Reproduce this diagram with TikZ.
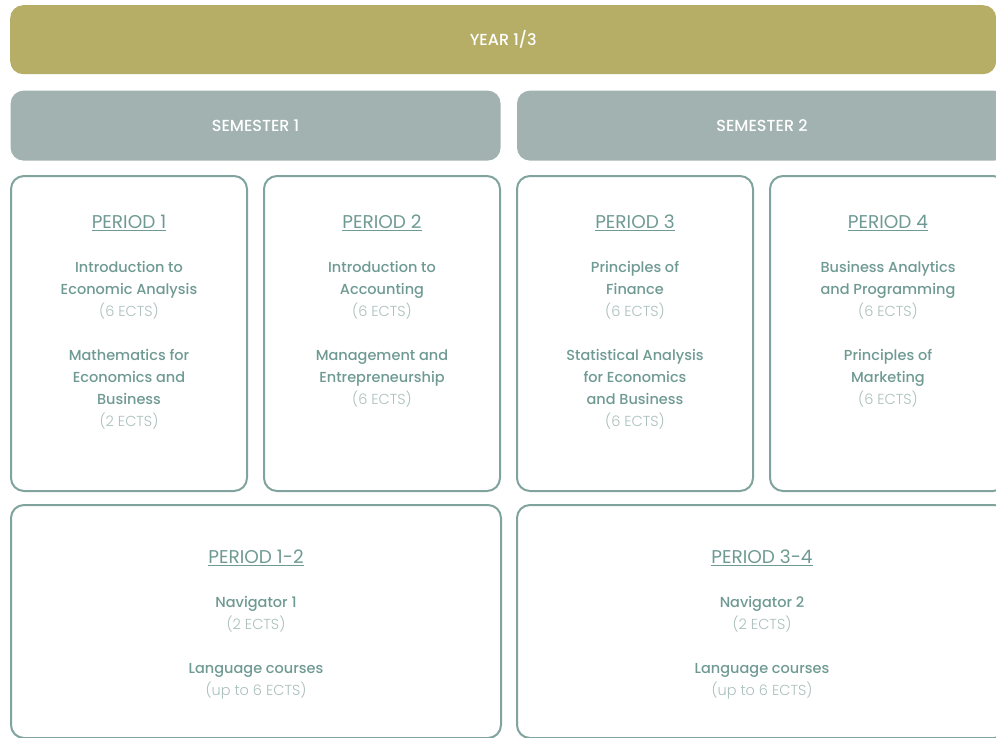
\documentclass[tikz,border=0pt]{standalone}
\usepackage{fontspec}
\setmainfont{Poppins}
\newfontfamily\medfont{Poppins Medium}
\newfontfamily\lightfont{Poppins Light}
\usetikzlibrary{positioning}

\definecolor{yearolive}{HTML}{B6AE67}
\definecolor{semgrey}{HTML}{A1B2B1}
\definecolor{frame}{HTML}{80A49D}
\definecolor{course}{HTML}{6F9A93}
\definecolor{credit}{HTML}{A9BFBB}

\newcommand{\ects}[1]{{\color{credit}\lightfont(#1)}}
\newcommand{\phead}[1]{{\normalfont\fontsize{18.5}{22}\selectfont\underline{#1}}}

\begin{document}
\begin{tikzpicture}[%
    x=1pt, y=-1pt,               % work in image pixels
    node distance=16pt and 15pt, % gaps between boxes
    ]
% -------------------------------------------------
% Box and text styles
\tikzset{
  base/.style={rounded corners=13pt, inner sep=0pt},
  bar/.style={base, fill=yearolive, text=white, font=\medfont\fontsize{16}{18}\selectfont},
  sembar/.style={base, fill=semgrey, text=white, font=\medfont\fontsize{16}{18}\selectfont},
  period/.style={base, draw=frame, line width=2pt, anchor=north west},
  courses/.style={align=center, text=course, inner sep=0pt, anchor=north,
    font=\medfont\fontsize{14.5}{22}\selectfont}
}
\useasboundingbox (0,0) rectangle (996,737);
\clip (0,0) rectangle (996,737);
% -------------------------------------------------
% Headers
\node [bar, anchor=north west, minimum width=986pt, minimum height=69pt] (year) at (10,5) {YEAR 1/3};
\node [sembar, below right=16pt and -986pt of year.south east, minimum width=490pt, minimum height=70pt] (sem1) {SEMESTER 1};
\node [sembar, right=16pt of sem1, minimum width=490pt, minimum height=70pt] (sem2) {SEMESTER 2};

% Period boxes
\node [period, minimum width=236pt, minimum height=315pt] (p1) at (10,175) {};
\node [period, minimum width=236pt, minimum height=315pt, right=of p1.north east, anchor=north west] (p2) {};
\node [period, minimum width=236pt, minimum height=315pt, right=of p2.north east, anchor=north west] (p3) {};
\node [period, minimum width=236pt, minimum height=315pt, right=of p3.north east, anchor=north west] (p4) {};
\node [period, minimum width=490pt, minimum height=233pt] (p12) at (10,504) {};
\node [period, minimum width=490pt, minimum height=233pt] (p34) at (516,504) {};

% Texts
\node [courses, below=40pt of p1.north] (t1) {\phead{PERIOD 1}\\[22pt]
  Introduction to\\Economic Analysis\\\ects{6 ECTS}\\[22pt]
  Mathematics for\\Economics and\\Business\\\ects{2 ECTS}};
\node [courses, below=40pt of p2.north] (t2) {\phead{PERIOD 2}\\[22pt]
  Introduction to\\Accounting\\\ects{6 ECTS}\\[22pt]
  Management and\\Entrepreneurship\\\ects{6 ECTS}};
\node [courses, below=40pt of p3.north] (t3) {\phead{PERIOD 3}\\[22pt]
  Principles of\\Finance\\\ects{6 ECTS}\\[22pt]
  Statistical Analysis\\for Economics\\and Business\\\ects{6 ECTS}};
\node [courses, below=40pt of p4.north] (t4) {\phead{PERIOD 4}\\[22pt]
  Business Analytics\\and Programming\\\ects{6 ECTS}\\[22pt]
  Principles of\\Marketing\\\ects{6 ECTS}};
\node [courses, below=46pt of p12.north] (t12) {\phead{PERIOD 1-2}\\[22pt]
  Navigator 1\\\ects{2 ECTS}\\[22pt]
  Language courses\\\ects{up to 6 ECTS}};
\node [courses, below=46pt of p34.north] (t34) {\phead{PERIOD 3-4}\\[22pt]
  Navigator 2\\\ects{2 ECTS}\\[22pt]
  Language courses\\\ects{up to 6 ECTS}};
% -------------------------------------------------
\end{tikzpicture}
\end{document}
